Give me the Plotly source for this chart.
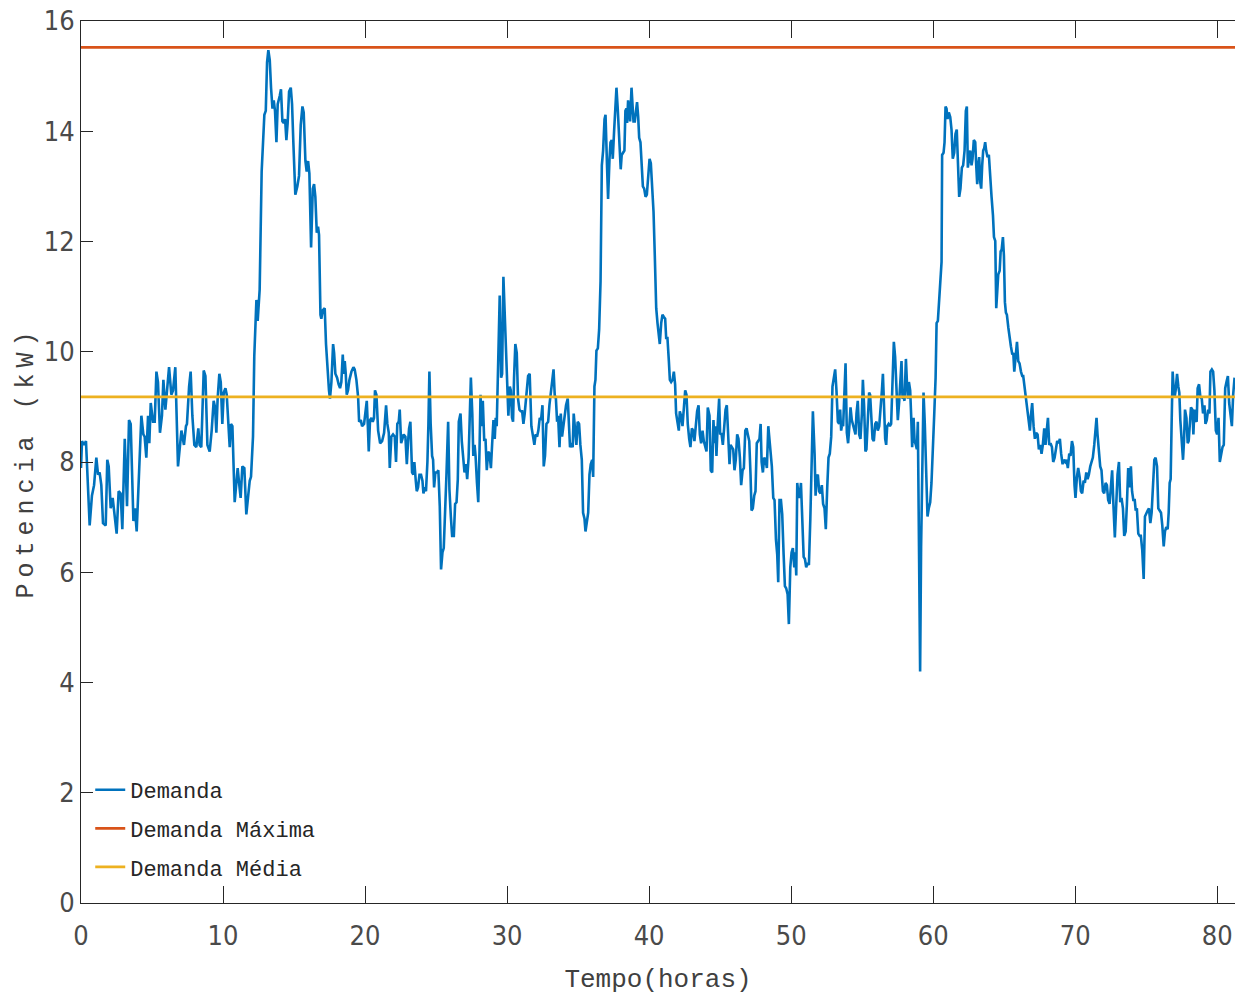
import plotly.graph_objects as go

# ---- data (hours, kW) ----
t_h = [
 0.00,0.07,0.21,0.35,0.61,0.77,0.92,1.08,1.20,1.31,1.43,1.55,1.74,1.85,1.95,2.09,2.23,2.32,2.51,2.65,2.79,2.91,3.08,3.24,3.38,3.50,3.69,3.80,3.92,4.25,4.39,4.48,4.60,4.72,4.81,4.91,5.07,5.19,5.31,5.42,5.56,5.70,5.80,5.94,6.08,6.20,6.36,6.48,6.64,6.83,7.07,7.25,7.39,
 7.46,7.61,7.72,7.84,7.98,8.12,8.26,8.35,8.47,8.64,8.76,8.90,9.06,9.20,9.34,9.44,9.53,9.62,9.74,9.84,9.95,10.05,10.17,10.26,10.36,10.47,10.56,10.66,10.82,10.94,11.03,11.13,11.24,11.36,11.50,11.64,11.76,11.88,11.97,12.11,12.20,12.35,12.44,12.58,12.72,12.82,12.91,13.01,13.10,13.19,13.29,13.38,13.48,13.57,13.66,13.76,13.85,13.99,14.08,14.18,14.27,14.37,14.46,14.55,14.65,14.77,
 14.86,14.95,15.09,15.23,15.35,15.47,15.59,15.68,15.80,15.89,15.99,16.08,16.20,16.32,16.41,16.50,16.60,16.69,16.76,16.86,16.92,17.02,17.16,17.25,17.35,17.46,17.53,17.63,17.75,17.82,17.91,18.03,18.14,18.24,18.33,18.43,18.50,18.57,18.64,18.71,18.80,18.90,19.04,19.18,19.27,19.39,19.51,19.58,19.70,19.79,19.93,20.03,20.12,20.19,20.26,20.35,20.45,20.54,20.63,20.70,20.80,20.92,21.06,21.20,21.34,21.48,21.57,21.67,21.74,21.85,21.97,
 22.09,22.18,22.27,22.37,22.44,22.54,22.63,22.72,22.84,22.94,23.03,23.10,23.19,23.31,23.40,23.47,23.57,23.64,23.73,23.83,23.94,24.04,24.11,24.20,24.29,24.39,24.46,24.53,24.62,24.72,24.79,24.86,24.95,25.07,25.16,25.26,25.35,25.45,25.54,25.64,25.73,25.85,25.94,26.04,26.13,26.25,26.34,26.44,26.53,26.60,26.72,26.81,26.91,27.00,27.10,27.19,27.29,27.38,27.45,27.55,27.62,27.71,27.78,27.88,27.97,28.06,28.13,28.20,28.29,28.39,28.48,28.57,28.67,28.76,28.86,28.95,29.04,29.13,29.20,29.27,29.34,
 29.37,29.48,29.58,29.65,29.74,29.84,29.93,30.02,30.09,30.19,30.26,30.35,30.42,30.49,30.58,30.68,30.77,30.87,30.96,31.06,31.15,31.24,31.36,31.48,31.59,31.71,31.83,31.92,32.01,32.11,32.20,32.30,32.39,32.49,32.58,32.67,32.77,32.89,32.98,33.08,33.17,33.27,33.36,33.43,33.52,33.59,33.69,33.78,33.87,33.97,34.06,34.15,34.27,34.34,34.43,34.53,34.62,34.69,34.79,34.88,34.97,35.07,35.16,35.26,35.35,35.45,35.52,35.61,35.71,35.80,35.89,35.99,36.06,36.15,36.22,36.29,36.39,36.48,36.58,36.67,36.76,36.86,36.93,
 37.04,37.11,37.21,37.28,37.37,37.44,37.54,37.63,37.70,37.79,37.89,38.00,38.07,38.17,38.26,38.33,38.40,38.45,38.52,38.59,38.66,38.76,38.83,38.90,38.99,39.06,39.15,39.23,39.30,39.39,39.48,39.56,39.65,39.75,39.84,39.93,40.03,40.12,40.21,40.31,40.40,40.50,40.59,40.66,40.75,40.85,40.94,41.04,41.13,41.20,41.29,41.39,41.46,41.55,41.65,41.74,41.83,41.90,42.00,42.09,42.16,42.25,42.35,42.44,42.54,42.63,42.72,42.82,42.91,43.01,43.10,43.19,43.29,43.38,43.48,43.57,43.66,43.76,43.85,43.94,44.04,44.13,
 44.25,44.34,44.44,44.53,44.60,44.67,44.74,44.83,44.93,45.00,45.09,45.19,45.28,45.38,45.47,45.56,45.66,45.73,45.82,45.92,46.01,46.10,46.20,46.29,46.39,46.48,46.58,46.67,46.77,46.86,46.95,47.05,47.14,47.21,47.30,47.40,47.49,47.58,47.68,47.77,47.85,47.92,48.01,48.10,48.20,48.29,48.39,48.46,48.55,48.64,48.74,48.83,48.93,49.02,49.09,49.18,49.28,49.37,49.47,49.56,49.65,49.75,49.84,49.94,50.03,50.12,50.22,50.29,50.36,50.43,50.52,50.59,50.69,50.78,50.88,50.97,51.06,51.16,51.25,51.35,51.44,51.53,
 51.65,51.72,51.79,51.88,51.97,52.07,52.16,52.25,52.35,52.44,52.54,52.63,52.72,52.82,52.91,53.00,53.10,53.19,53.29,53.38,53.45,53.52,53.59,53.66,53.76,53.83,53.92,54.01,54.11,54.18,54.27,54.37,54.46,54.53,54.60,54.69,54.79,54.88,54.98,55.05,55.14,55.23,55.30,55.40,55.49,55.56,55.66,55.73,55.82,55.92,56.01,56.10,56.20,56.29,56.39,56.46,56.55,56.62,56.69,56.76,56.86,56.95,57.04,57.14,57.23,57.32,57.42,57.51,57.61,57.70,57.77,57.84,57.91,57.98,58.08,58.15,58.22,58.29,58.38,58.45,58.52,58.62,58.69,58.78,58.85,58.92,
 59.01,59.08,59.15,59.25,59.32,59.41,59.51,59.60,59.69,59.79,59.88,59.98,60.07,60.17,60.24,60.33,60.42,60.52,60.59,60.63,60.73,60.80,60.87,60.94,61.01,61.10,61.20,61.29,61.38,61.48,61.57,61.66,61.73,61.83,61.92,62.02,62.11,62.21,62.30,62.37,62.44,62.51,62.61,62.70,62.77,62.86,62.96,63.03,63.10,63.17,63.24,63.31,63.38,63.45,63.52,63.59,63.66,63.73,63.83,63.92,64.02,64.11,64.21,64.28,64.37,64.44,64.51,64.58,64.68,64.75,64.82,64.91,64.98,65.05,65.12,65.19,65.29,65.38,65.47,65.57,65.64,65.71,65.80,65.90,65.99,66.08,66.18,66.27,
 66.34,66.43,66.53,66.62,66.71,66.81,66.88,66.97,67.07,67.16,67.25,67.35,67.44,67.54,67.63,67.72,67.82,67.91,68.01,68.08,68.17,68.26,68.36,68.45,68.55,68.64,68.73,68.83,68.92,69.01,69.11,69.20,69.30,69.39,69.48,69.58,69.67,69.77,69.86,69.95,70.02,70.12,70.21,70.31,70.40,70.49,70.59,70.68,70.78,70.87,70.96,71.06,71.15,71.24,71.34,71.43,71.50,71.57,71.67,71.76,71.85,71.95,72.04,72.14,72.23,72.32,72.42,72.51,72.60,72.70,72.79,72.89,72.98,73.08,73.17,73.26,73.36,73.45,73.55,73.64,
 73.73,73.83,73.92,74.00,74.09,74.19,74.26,74.34,74.44,74.54,74.62,74.72,74.82,74.91,75.00,75.10,75.19,75.29,75.38,75.47,75.57,75.66,75.76,75.85,75.94,76.04,76.13,76.23,76.32,76.41,76.51,76.58,76.65,76.72,76.79,76.86,76.93,77.00,77.07,77.17,77.26,77.33,77.40,77.50,77.59,77.66,77.73,77.83,77.92,77.99,78.06,78.15,78.25,78.32,78.39,78.46,78.55,78.62,78.72,78.81,78.91,79.00,79.10,79.17,79.26,79.36,79.45,79.52,79.62,79.71,79.80,79.90,79.99,80.09,80.18,80.28,80.37,80.46,80.56,80.65,80.75,80.84,80.93,81.03,81.12,81.22,
]

demanda_kw = [
 7.89,8.38,8.31,8.38,6.85,7.39,7.58,8.08,7.77,7.81,7.58,6.89,6.85,8.04,7.92,7.16,7.35,7.12,6.70,7.47,7.43,6.78,8.42,7.20,8.76,8.69,6.93,7.16,6.74,8.84,8.50,8.46,8.08,8.84,8.34,9.07,8.73,8.73,9.64,9.45,8.53,8.84,9.49,8.95,9.37,9.72,9.22,9.30,9.72,7.92,8.57,8.31,8.65,
 8.69,9.37,9.64,8.84,8.31,8.27,8.61,8.31,8.27,9.66,9.56,8.31,8.19,8.57,9.11,8.99,8.53,9.15,9.60,9.45,8.69,9.26,9.34,9.22,8.76,8.27,8.69,8.65,7.27,7.69,7.89,7.62,7.35,7.92,7.89,7.05,7.31,7.66,7.73,8.46,9.92,10.94,10.56,11.13,13.27,13.88,14.30,14.37,15.25,15.47,15.29,14.79,14.41,14.56,14.37,13.80,14.49,14.64,14.76,14.18,14.15,14.22,13.84,14.15,14.72,14.79,
 14.49,13.80,12.85,13.00,13.19,14.11,14.45,14.34,13.46,13.27,13.46,13.23,11.89,12.96,13.04,12.81,12.16,12.27,12.12,10.67,10.60,10.75,10.79,10.14,9.68,9.30,9.15,9.45,10.14,9.98,9.60,9.53,9.41,9.34,9.45,9.95,9.60,9.83,9.60,9.22,9.30,9.49,9.64,9.72,9.68,9.49,9.18,8.73,8.76,8.65,8.69,8.92,9.11,8.69,8.19,8.76,8.80,8.73,8.80,9.30,9.22,8.57,8.34,8.38,8.53,9.03,8.69,8.53,7.89,8.46,8.50,
 8.46,8.00,8.69,8.73,8.95,8.34,8.42,8.50,8.46,7.96,8.38,8.61,8.73,7.81,7.77,8.00,7.66,7.47,7.54,7.77,7.77,7.66,7.43,7.54,7.47,8.00,8.69,9.64,8.69,8.11,8.04,7.54,7.81,7.81,7.85,7.20,6.05,6.36,6.44,7.01,7.77,8.73,7.50,7.01,6.66,6.66,7.24,7.27,7.69,8.73,8.88,8.38,8.00,7.81,7.96,7.69,8.08,9.03,9.53,8.88,8.11,8.31,8.11,7.62,7.27,8.23,9.22,8.65,9.11,8.38,8.42,7.85,8.19,8.15,7.89,8.34,8.76,8.42,8.80,8.65,9.56,
 9.95,11.02,9.53,9.60,11.36,10.67,9.76,9.07,8.84,9.37,9.30,8.80,8.73,9.53,10.14,9.98,9.15,8.95,8.92,8.92,8.69,8.88,9.22,9.56,9.60,8.65,8.46,8.31,8.50,8.46,8.57,8.80,8.76,9.03,7.92,8.11,8.69,8.73,9.03,9.30,9.45,9.68,9.18,9.18,8.73,8.84,8.27,8.88,8.46,8.69,8.84,9.03,9.15,8.84,8.27,8.31,8.27,8.88,8.53,8.31,8.73,8.69,8.31,8.04,7.08,6.97,6.74,6.93,7.08,7.77,7.96,8.04,7.73,9.37,9.49,10.02,10.06,10.40,11.28,13.38,13.65,14.22,14.30,
 13.34,12.77,13.50,13.80,13.84,13.50,14.03,14.60,14.79,14.41,13.73,13.31,13.57,13.61,13.65,14.37,14.41,14.15,14.56,14.41,14.18,14.79,14.49,14.18,14.18,14.37,14.53,14.26,13.88,13.80,13.46,13.00,12.96,12.81,12.85,13.11,13.50,13.42,12.96,12.54,11.74,10.79,10.52,10.33,10.14,10.52,10.67,10.63,10.60,10.25,10.25,9.83,9.49,9.45,9.49,9.64,9.41,8.88,8.69,8.57,8.92,8.84,8.65,8.99,9.30,9.22,8.69,8.42,8.27,8.61,8.57,8.38,8.69,8.92,9.03,8.50,8.34,8.57,8.38,8.31,8.19,8.99,
 8.84,7.85,7.81,8.76,8.34,8.65,8.11,8.69,9.15,8.50,8.53,8.31,8.57,8.95,9.03,8.57,7.96,8.31,8.27,8.23,7.85,8.04,8.50,8.42,8.08,7.58,7.85,7.89,8.57,8.61,8.50,8.38,7.77,7.12,7.16,7.39,7.47,8.34,8.38,8.42,8.69,8.00,7.81,8.08,8.04,7.89,8.65,8.46,8.15,7.92,7.35,7.31,6.59,6.32,5.82,7.31,7.31,7.05,6.32,5.75,5.71,5.60,5.06,6.09,6.36,6.44,6.09,6.36,5.94,7.62,7.39,7.35,7.62,7.08,6.28,6.24,6.09,6.17,6.13,6.97,8.31,8.92,
 8.15,7.39,7.73,7.77,7.47,7.43,7.58,7.24,7.16,6.78,7.54,8.08,8.15,8.46,9.37,9.49,9.68,9.30,8.73,8.69,8.95,8.57,8.69,8.65,9.37,9.79,8.53,8.34,8.69,8.99,8.76,8.65,8.57,8.50,8.88,9.11,8.50,8.42,8.88,9.49,8.99,8.19,8.23,8.76,9.26,9.22,8.80,8.42,8.38,8.69,8.73,8.57,8.65,8.92,9.30,9.60,8.84,8.42,8.31,8.65,8.69,8.65,8.69,9.53,10.18,9.91,9.37,8.76,9.11,9.53,9.83,9.15,9.18,9.11,9.87,9.45,9.15,9.45,9.30,8.84,8.27,8.80,8.38,8.31,8.23,8.73,
 6.09,4.20,6.47,8.38,9.26,8.69,7.69,7.01,7.16,7.27,7.62,8.15,8.84,9.53,10.52,10.56,10.98,11.51,11.63,13.57,13.61,13.80,14.45,14.41,14.22,14.34,14.26,14.03,13.50,13.61,13.95,14.03,13.46,12.81,12.96,13.34,13.38,13.65,14.37,14.45,13.34,13.50,13.65,13.38,13.50,13.84,13.80,13.38,13.04,13.38,13.53,13.08,12.96,13.38,13.65,13.69,13.80,13.65,13.53,13.57,13.08,12.81,12.47,12.08,12.01,10.79,11.09,11.40,11.47,11.82,11.85,12.08,11.74,10.90,10.71,10.67,10.44,10.21,10.10,9.95,9.98,9.64,9.95,10.18,9.83,9.79,9.64,9.56,
 9.56,9.37,9.15,8.88,8.80,8.57,8.84,9.07,8.65,8.42,8.53,8.50,8.23,8.31,8.15,8.31,8.61,8.31,8.61,8.80,8.31,8.34,8.27,8.00,8.08,8.27,8.38,8.34,8.42,8.15,7.96,8.04,8.00,8.04,7.89,8.15,8.11,8.38,8.27,7.58,7.35,7.73,7.89,7.73,7.47,7.43,7.66,7.62,7.81,7.69,7.77,7.92,8.00,8.08,8.31,8.69,8.80,8.50,8.08,7.92,7.85,7.47,7.43,7.62,7.58,7.31,7.24,7.66,7.85,7.16,6.63,7.24,7.77,8.00,7.27,7.35,7.16,6.66,6.74,7.24,
 7.89,7.54,7.92,7.47,7.31,7.31,7.12,7.16,6.70,6.66,6.66,6.40,5.88,7.01,7.08,7.12,7.16,6.89,7.08,7.54,8.04,8.08,7.92,7.16,7.12,7.08,6.85,6.47,6.74,6.82,6.78,7.08,7.62,7.69,8.73,9.64,9.34,9.18,9.30,9.60,9.37,9.26,8.76,8.31,8.04,8.38,8.95,8.80,8.34,8.38,8.73,8.99,8.95,8.50,8.95,8.76,8.73,9.34,9.41,9.18,9.15,8.88,9.03,8.69,8.76,8.95,8.88,9.64,9.68,9.64,9.30,8.57,8.50,8.80,8.00,8.19,8.27,8.31,9.34,9.45,9.56,9.07,8.88,8.65,9.22,9.53,
]

demanda_maxima = 15.52   # kW (red reference line)
demanda_media = 9.18     # kW (yellow reference line)
x_end = 81.25

series_names = ["Demanda", "Demanda Máxima", "Demanda Média"]
series_colors = ["#0072BD", "#D95319", "#EDB120"]

x_ticks = [0, 10, 20, 30, 40, 50, 60, 70, 80]
y_ticks = [0, 2, 4, 6, 8, 10, 12, 14, 16]

MONO = "Liberation Mono, DejaVu Sans Mono, monospace"
TICKF = "Liberation Sans Narrow, DejaVu Sans Condensed, Roboto, sans-serif"
AX = "#262626"

fig = go.Figure()
fig.add_trace(go.Scatter(x=t_h, y=demanda_kw, mode="lines", name=series_names[0],
                         line=dict(color=series_colors[0], width=2.6), legendgroup="a"))
fig.add_trace(go.Scatter(x=[0, x_end], y=[demanda_maxima, demanda_maxima], mode="lines",
                         name=series_names[1], line=dict(color=series_colors[1], width=2.8),
                         legendgroup="b"))
fig.add_trace(go.Scatter(x=[0, x_end], y=[demanda_media, demanda_media], mode="lines",
                         name=series_names[2], line=dict(color=series_colors[2], width=2.8),
                         legendgroup="c"))

fig.update_layout(
    width=1235, height=995,
    margin=dict(l=81, r=0, t=21, b=92),
    paper_bgcolor="white", plot_bgcolor="white",
    showlegend=True,
    legend=dict(x=0.008, y=0.152, xanchor="left", yanchor="top",
                bgcolor="rgba(0,0,0,0)", borderwidth=0,
                font=dict(family=MONO, size=22, color=AX),
                tracegroupgap=7, itemwidth=30),
    xaxis=dict(range=[0, x_end], tickvals=x_ticks, ticks="inside", ticklen=17,
               tickcolor=AX, showline=True, linecolor=AX, linewidth=1, mirror="ticks",
               showgrid=False, zeroline=False, ticklabelstandoff=9,
               tickfont=dict(family=TICKF, size=27, color="#4a4a4a"),
               title=dict(text="Tempo(horas)", font=dict(family=MONO, size=26, color="#404040"),
                          standoff=20)),
    yaxis=dict(range=[0, 16], tickvals=y_ticks, ticks="inside", ticklen=12,
               tickcolor=AX, showline=True, linecolor=AX, linewidth=1, mirror=False,
               showgrid=False, zeroline=False,
               tickfont=dict(family=TICKF, size=27, color="#4a4a4a"),
               title=dict(text='<span style="letter-spacing:6px">Potencia (kW)</span>',
                          font=dict(family=MONO, size=25, color="#404040"), standoff=2)),
)

fig.write_html("out.html")
